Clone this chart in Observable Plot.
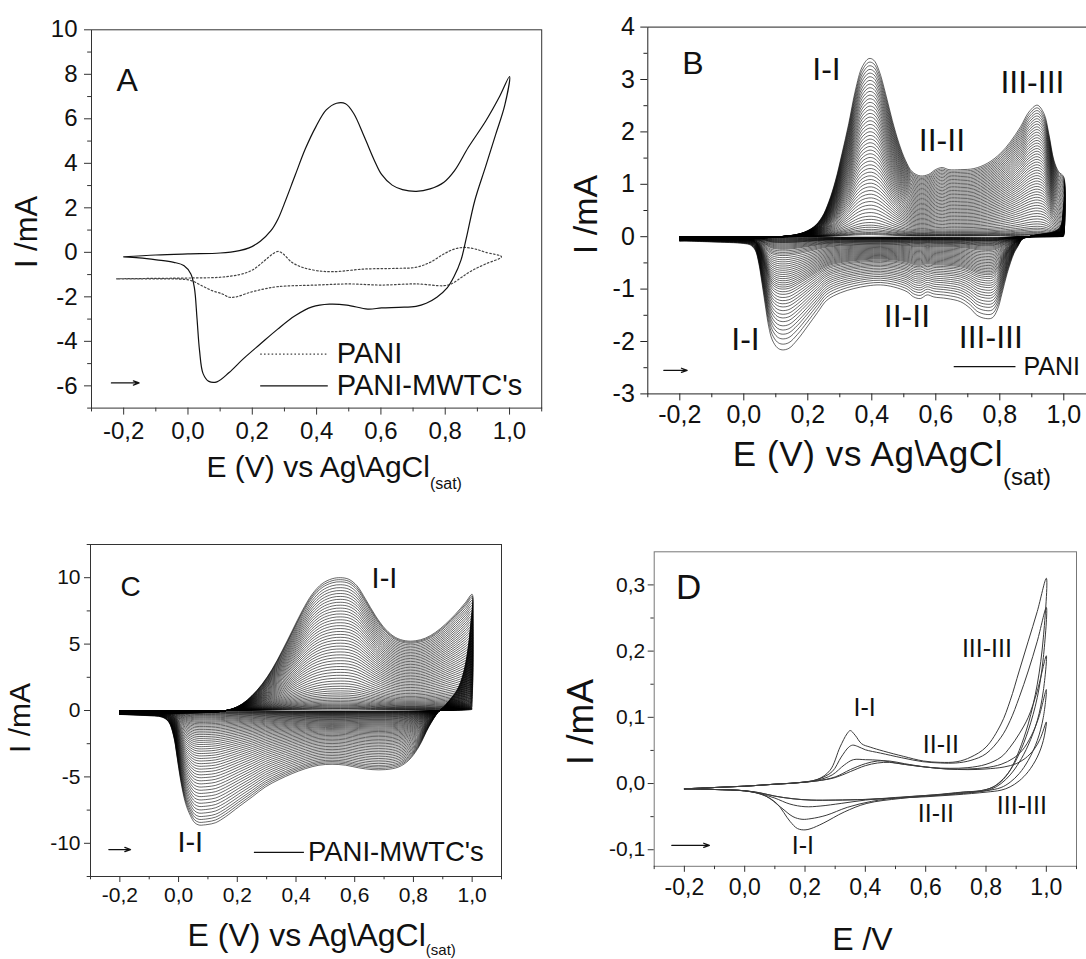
<!DOCTYPE html>
<html>
<head>
<meta charset="utf-8">
<script src="https://cdn.jsdelivr.net/npm/d3@7"></script>
<script src="https://cdn.jsdelivr.net/npm/@observablehq/plot@0.6"></script>
<style>
  html, body { margin: 0; padding: 0; background: #fff; overflow: hidden; width: 1086px; height: 959px; }
  #fig { position: relative; width: 1086px; height: 959px; }
  .panel { position: absolute; overflow: hidden; }
  .panel svg { max-width: none !important; display: block; }
</style>
</head>
<body>
<div id="fig"></div>
<script>
// ----- shared potential ticks (V) -----
const eMajor = [-0.2, 0.0, 0.2, 0.4, 0.6, 0.8, 1.0];
const eMinor = [-0.3, -0.1, 0.1, 0.3, 0.5, 0.7, 0.9, 1.1];

// ----- Panel A: one voltammogram of each film, [E (V), I (mA)] -----
const cvPaniMwtc = [
  [-0.2,-0.2],[-0.1,-0.12],[0.0,-0.07],[0.1,-0.03],[0.16,0.08],[0.19,0.2],[0.225,0.5],[0.258,0.97],
  [0.28,1.5],[0.3,2.2],[0.333,3.45],[0.365,4.65],[0.398,5.65],[0.43,6.4],[0.462,6.7],[0.49,6.68],
  [0.515,6.25],[0.549,5.17],[0.58,4.12],[0.602,3.5],[0.635,3.02],[0.667,2.82],[0.71,2.74],[0.753,2.85],
  [0.796,3.15],[0.829,3.67],[0.872,4.72],[0.926,5.9],[0.969,7.0],[1.0,7.9],
  [0.985,6.6],[0.957,5.3],[0.925,3.83],[0.892,2.33],[0.865,0.6],[0.849,-0.35],[0.827,-1.1],[0.806,-1.6],
  [0.774,-2.02],[0.741,-2.29],[0.709,-2.43],[0.655,-2.47],[0.602,-2.5],[0.559,-2.55],[0.494,-2.37],
  [0.44,-2.33],[0.386,-2.45],[0.333,-2.85],[0.279,-3.45],[0.225,-4.12],[0.171,-4.8],[0.128,-5.4],
  [0.09,-5.82],[0.065,-5.8],[0.047,-5.45],[0.036,-4.42],[0.028,-2.95],[0.02,-1.6],[0.009,-0.97],
  [-0.012,-0.6],[-0.044,-0.45],[-0.098,-0.34],[-0.152,-0.25],[-0.2,-0.2]
];
const cvPani = [
  [-0.222,-1.19],[-0.1,-1.17],[0.02,-1.15],[0.1,-1.12],[0.16,-1.0],[0.2,-0.8],[0.236,-0.4],[0.263,-0.08],
  [0.28,0.04],[0.296,-0.07],[0.323,-0.45],[0.355,-0.67],[0.4,-0.82],[0.45,-0.87],[0.55,-0.75],[0.65,-0.72],
  [0.71,-0.67],[0.753,-0.45],[0.796,-0.07],[0.829,0.15],[0.86,0.22],[0.893,0.15],[0.926,0.0],[0.975,-0.2],
  [0.926,-0.52],[0.883,-0.82],[0.851,-1.12],[0.819,-1.42],[0.796,-1.5],[0.71,-1.42],[0.6,-1.47],[0.5,-1.42],
  [0.4,-1.47],[0.28,-1.54],[0.236,-1.65],[0.193,-1.8],[0.15,-2.0],[0.128,-2.02],[0.107,-1.87],[0.075,-1.72],
  [0.043,-1.5],[0.01,-1.27],[-0.03,-1.2],[-0.1,-1.19],[-0.222,-1.19]
];
const iMajorA = [-6, -4, -2, 0, 2, 4, 6, 8, 10];
const iMinorA = [-7, -5, -3, -1, 1, 3, 5, 7, 9];

// ----- Panel B: PANI growth; last-cycle shape, then the I-I anodic and cathodic peak of every cycle (mA) -----
const cvPaniLastCycle = [
  [-0.2,-0.08],[-0.1,-0.05],[0.0,-0.04],[0.094,-0.01],[0.177,0.06],[0.219,0.19],[0.245,0.38],[0.266,0.67],
  [0.287,1.08],[0.307,1.59],[0.328,2.16],[0.349,2.8],[0.37,3.24],[0.391,3.4],[0.406,3.37],[0.422,3.18],
  [0.443,2.73],[0.464,2.22],[0.485,1.78],[0.505,1.46],[0.526,1.24],[0.552,1.16],[0.578,1.19],[0.599,1.28],
  [0.62,1.32],[0.641,1.28],[0.678,1.28],[0.719,1.3],[0.761,1.4],[0.802,1.59],[0.833,1.81],[0.865,2.1],
  [0.891,2.38],[0.917,2.51],[0.938,2.35],[0.953,1.97],[0.969,1.46],[0.984,1.24],[1.0,1.14],
  [0.998,0.5],[0.99,0.2],[0.97,0.1],[0.94,0.06],[0.91,0.03],[0.885,-0.01],[0.87,-0.05],[0.855,-0.2],
  [0.844,-0.32],[0.823,-0.7],[0.807,-1.08],[0.792,-1.4],[0.776,-1.55],[0.755,-1.56],[0.729,-1.5],
  [0.708,-1.37],[0.677,-1.24],[0.635,-1.18],[0.594,-1.15],[0.573,-1.11],[0.552,-1.18],[0.531,-1.15],
  [0.51,-1.05],[0.469,-0.96],[0.427,-0.92],[0.385,-0.94],[0.344,-0.99],[0.302,-1.07],[0.26,-1.21],
  [0.23,-1.45],[0.198,-1.72],[0.167,-1.97],[0.141,-2.13],[0.12,-2.16],[0.105,-2.12],[0.089,-1.97],
  [0.078,-1.72],[0.068,-1.34],[0.057,-0.89],[0.047,-0.51],[0.036,-0.26],[0.021,-0.16],[0.0,-0.13],
  [-0.1,-0.1],[-0.2,-0.08]
];
const peakPaniAnodic = [
  0.04,0.06,0.08,0.11,0.14,0.18,0.22,0.27,0.33,0.39,0.46,0.53,0.60,0.67,0.74,0.81,0.88,0.95,1.02,1.09,
  1.16,1.23,1.30,1.37,1.44,1.51,1.58,1.65,1.72,1.79,1.86,1.93,2.00,2.07,2.14,2.21,2.28,2.35,2.42,2.49,
  2.56,2.63,2.70,2.77,2.84,2.91,2.98,3.05,3.12,3.19,3.26,3.33,3.40
];
const peakPaniCathodic = [
  0.02,0.03,0.04,0.05,0.06,0.07,0.08,0.09,0.10,0.11,0.12,0.14,0.16,0.18,0.20,0.22,0.24,0.27,0.30,0.33,
  0.36,0.40,0.44,0.48,0.52,0.56,0.60,0.64,0.68,0.72,0.76,0.80,0.84,0.88,0.92,0.96,1.00,1.05,1.10,1.16,
  1.22,1.28,1.34,1.41,1.48,1.55,1.62,1.70,1.78,1.86,1.95,2.05,2.16
];
const iMajorB = [-3, -2, -1, 0, 1, 2, 3, 4];
const iMinorB = [-2.5, -1.5, -0.5, 0.5, 1.5, 2.5, 3.5];

// ----- Panel C: PANI-MWTC's growth; last-cycle shape, then I-I anodic and cathodic peaks per cycle (mA) -----
const cvCompositeLastCycle = [
  [-0.2,-0.3],[-0.1,-0.25],[0.0,-0.2],[0.1,-0.15],[0.137,-0.1],[0.183,0.12],[0.217,0.5],[0.25,1.12],
  [0.285,2.0],[0.319,3.12],[0.353,4.5],[0.387,6.0],[0.421,7.5],[0.455,8.75],[0.489,9.55],[0.523,9.92],
  [0.552,10.0],[0.58,9.88],[0.608,9.38],[0.637,8.38],[0.671,7.12],[0.705,6.12],[0.739,5.5],[0.773,5.25],
  [0.807,5.25],[0.841,5.45],[0.875,5.88],[0.909,6.5],[0.943,7.25],[0.977,8.12],[1.0,8.75],
  [0.995,6.5],[0.985,4.5],[0.97,2.8],[0.95,1.6],[0.92,0.7],[0.9,0.2],[0.885,-0.1],[0.852,-1.25],
  [0.818,-2.75],[0.784,-3.75],[0.75,-4.25],[0.705,-4.45],[0.659,-4.45],[0.614,-4.32],[0.569,-4.12],
  [0.523,-4.05],[0.478,-4.12],[0.432,-4.38],[0.387,-4.75],[0.342,-5.2],[0.296,-5.75],[0.251,-6.5],
  [0.205,-7.25],[0.16,-8.0],[0.126,-8.45],[0.1,-8.58],[0.085,-8.62],[0.07,-8.63],[0.055,-8.45],
  [0.04,-7.9],[0.024,-7.0],[0.007,-5.25],[-0.005,-3.5],[-0.016,-2.0],[-0.033,-0.88],[-0.056,-0.5],
  [-0.113,-0.38],[-0.2,-0.3]
];
const peakCompositeAnodic = [
  0.10,0.15,0.20,0.26,0.33,0.40,0.48,0.57,0.67,0.78,0.90,1.03,1.17,1.32,1.48,1.65,1.83,2.02,2.22,2.43,
  2.65,2.87,3.09,3.31,3.53,3.75,3.97,4.19,4.41,4.63,4.85,5.07,5.29,5.51,5.73,5.95,6.17,6.39,6.61,6.83,
  7.05,7.27,7.49,7.71,7.93,8.15,8.37,8.59,8.81,9.03,9.25,9.47,9.69,9.85,10.0
];
const peakCompositeCathodic = [
  0.08,0.12,0.16,0.20,0.25,0.30,0.36,0.42,0.49,0.56,0.64,0.72,0.81,0.90,1.00,1.10,1.21,1.32,1.44,1.56,
  1.69,1.82,1.96,2.10,2.25,2.40,2.56,2.72,2.89,3.06,3.24,3.42,3.61,3.80,4.00,4.20,4.41,4.62,4.84,5.06,
  5.29,5.52,5.76,6.00,6.24,6.48,6.73,6.98,7.23,7.48,7.73,7.98,8.20,8.42,8.63
];
const iMajorC = [-10, -5, 0, 5, 10];
const iMinorC = [-12.5, -7.5, -2.5, 2.5, 7.5, 12.5];

// ----- Panel D: five successive cycles, [E (V), I (mA)] -----
const cvD1 = [
  [-0.2,-0.008],[-0.1,-0.006],[0.0,-0.004],[0.1,-0.001],[0.17,0.001],[0.24,0.006],[0.283,0.02],[0.316,0.055],
  [0.339,0.075],[0.35,0.08],[0.366,0.073],[0.388,0.06],[0.416,0.055],[0.46,0.049],[0.527,0.041],[0.593,0.034],
  [0.648,0.032],[0.704,0.033],[0.75,0.04],[0.8,0.055],[0.85,0.09],[0.88,0.125],[0.91,0.17],[0.94,0.215],
  [0.97,0.26],[1.0,0.31],
  [0.99,0.22],[0.97,0.15],[0.94,0.09],[0.91,0.05],[0.88,0.02],[0.85,0.003],[0.82,-0.006],[0.78,-0.011],
  [0.737,-0.0125],[0.637,-0.0175],[0.516,-0.0226],[0.405,-0.03],[0.33,-0.043],[0.26,-0.06],[0.22,-0.068],
  [0.2,-0.07],[0.175,-0.068],[0.15,-0.057],[0.106,-0.03],[0.06,-0.017],[0.0,-0.011],[-0.1,-0.009],[-0.2,-0.008]
];
const cvD2 = [
  [-0.2,-0.008],[-0.1,-0.006],[0.0,-0.004],[0.1,-0.001],[0.17,0.001],[0.24,0.006],[0.29,0.018],[0.32,0.04],
  [0.345,0.055],[0.358,0.058],[0.375,0.056],[0.4,0.051],[0.45,0.046],[0.52,0.039],[0.59,0.033],[0.65,0.031],
  [0.7,0.031],[0.75,0.035],[0.8,0.045],[0.85,0.07],[0.88,0.095],[0.91,0.13],[0.94,0.17],[0.97,0.215],[1.0,0.266],
  [0.99,0.19],[0.97,0.13],[0.94,0.08],[0.91,0.045],[0.88,0.02],[0.85,0.004],[0.82,-0.006],[0.78,-0.011],
  [0.72,-0.013],[0.63,-0.017],[0.52,-0.021],[0.42,-0.027],[0.34,-0.036],[0.27,-0.048],[0.22,-0.053],
  [0.19,-0.054],[0.16,-0.05],[0.12,-0.036],[0.07,-0.019],[0.0,-0.011],[-0.1,-0.009],[-0.2,-0.008]
];
const cvD3 = [
  [-0.2,-0.008],[-0.1,-0.006],[0.0,-0.004],[0.1,-0.001],[0.17,0.001],[0.24,0.005],[0.29,0.013],[0.33,0.028],
  [0.36,0.036],[0.4,0.036],[0.45,0.035],[0.5,0.031],[0.56,0.027],[0.62,0.024],[0.68,0.023],[0.74,0.024],
  [0.8,0.029],[0.85,0.04],[0.88,0.055],[0.91,0.075],[0.94,0.1],[0.97,0.14],[1.0,0.193],
  [0.99,0.14],[0.97,0.095],[0.94,0.058],[0.91,0.032],[0.88,0.013],[0.85,0.0],[0.82,-0.008],[0.78,-0.012],
  [0.7,-0.015],[0.6,-0.018],[0.5,-0.021],[0.4,-0.025],[0.32,-0.03],[0.25,-0.034],[0.2,-0.035],[0.15,-0.031],
  [0.1,-0.022],[0.05,-0.015],[0.0,-0.011],[-0.1,-0.009],[-0.2,-0.008]
];
const cvD4 = [
  [-0.2,-0.008],[-0.1,-0.006],[0.0,-0.004],[0.1,-0.001],[0.17,0.001],[0.24,0.004],[0.3,0.01],[0.35,0.021],
  [0.4,0.03],[0.44,0.034],[0.48,0.034],[0.53,0.03],[0.6,0.025],[0.67,0.022],[0.74,0.022],[0.8,0.024],
  [0.85,0.029],[0.89,0.038],[0.92,0.05],[0.95,0.072],[0.975,0.1],[1.0,0.142],
  [0.99,0.1],[0.97,0.065],[0.94,0.035],[0.91,0.015],[0.88,0.002],[0.85,-0.006],[0.8,-0.011],[0.7,-0.016],
  [0.6,-0.019],[0.5,-0.022],[0.4,-0.024],[0.3,-0.025],[0.22,-0.025],[0.16,-0.023],[0.1,-0.019],[0.05,-0.014],
  [0.0,-0.011],[-0.1,-0.009],[-0.2,-0.008]
];
const cvD5 = [
  [-0.2,-0.008],[-0.1,-0.006],[0.0,-0.004],[0.1,-0.001],[0.17,0.001],[0.24,0.004],[0.3,0.009],[0.35,0.018],
  [0.4,0.027],[0.44,0.031],[0.48,0.032],[0.53,0.029],[0.6,0.025],[0.67,0.022],[0.74,0.021],[0.8,0.022],
  [0.86,0.025],[0.9,0.03],[0.93,0.038],[0.96,0.052],[0.98,0.068],[1.0,0.093],
  [0.99,0.065],[0.97,0.04],[0.94,0.018],[0.91,0.004],[0.88,-0.005],[0.85,-0.01],[0.8,-0.013],[0.7,-0.017],
  [0.6,-0.02],[0.5,-0.022],[0.4,-0.024],[0.3,-0.025],[0.22,-0.025],[0.16,-0.023],[0.1,-0.019],[0.05,-0.014],
  [0.0,-0.011],[-0.1,-0.009],[-0.2,-0.008]
];
const iMajorD = [-0.1, 0.0, 0.1, 0.2, 0.3];
const iMinorD = [-0.05, 0.05, 0.15, 0.25];

// ----- peak labels, legend entries and scan-direction arrows (data coordinates) -----
const labelsB = [
  {t: "I-I", E: 0.214, I: 3.18}, {t: "II-II", E: 0.547, I: 1.83}, {t: "III-III", E: 0.802, I: 2.93},
  {t: "I-I", E: -0.039, I: -1.97}, {t: "II-II", E: 0.4375, I: -1.53}, {t: "III-III", E: 0.672, I: -1.92}
];
const labelsC = [{t: "I-I", E: 0.6576, I: 9.92}, {t: "I-I", E: -0.004, I: -9.98}];
const labelsD = [
  {t: "I-I", E: 0.3605, I: 0.1146}, {t: "II-II", E: 0.5907, I: 0.0579}, {t: "III-III", E: 0.72, I: 0.2027},
  {t: "I-I", E: 0.156, I: -0.0946}, {t: "II-II", E: 0.574, I: -0.0467}, {t: "III-III", E: 0.836, I: -0.0342}
];
const legendA = [
  {t: "PANI", E1: 0.2246, E2: 0.4348, I: -4.57, dotted: true},
  {t: "PANI-MWTC's", E1: 0.2246, E2: 0.4348, I: -6.0, dotted: false}
];
const legendB = [{t: "PANI", E1: 0.656, E2: 0.849, I: -2.48}];
const legendC = [{t: "PANI-MWTC's", E1: 0.2566, E2: 0.427, I: -10.68}];
const scanArrowA = [{E1: -0.238, E2: -0.152, I: -5.87}];
const scanArrowB = [{E1: -0.25, E2: -0.177, I: -2.55}];
const scanArrowC = [{E1: -0.2375, E2: -0.1636, I: -10.47}];
const scanArrowD = [{E1: -0.2418, E2: -0.117, I: -0.0933}];

// ================= drawing =================
const FONT = "'Liberation Sans', Arial, Helvetica, sans-serif";
const INK = "#111";
const TITLE_X = "E (V) vs Ag\\AgCl";
const commaFmt = d => (d < -1e-9 ? "-" : "") + Math.abs(d).toFixed(1).replace(".", ",");
const intFmt = d => (d < 0 ? "-" : "") + Math.abs(d);

const rows = (pairs, extra = {}) => pairs.map(([E, I]) => ({E, I, ...extra}));

// Each cycle follows the last-cycle shape: the forward (anodic) scan is sized by that
// cycle's I-I anodic peak, the return (cathodic) scan by its I-I cathodic peak.
function growthRows(shape, anodic, cathodic) {
  const turn = d3.maxIndex(shape, d => d[0]);
  const aTop = d3.max(shape, d => d[1]);
  const cTop = -d3.min(shape, d => d[1]);
  return anodic.flatMap((a, k) => shape.map(([E, I], i) =>
    ({E, I: i <= turn ? I * a / aTop : I * cathodic[k] / cTop, cycle: k})));
}

function axes(s) {
  return [
    Plot.frame({stroke: s.frame, strokeWidth: 1}),
    Plot.axisX({ticks: eMajor, tickSize: s.xTick, tickPadding: s.xPad, tickFormat: commaFmt,
      fontSize: s.xFont, label: null, color: INK, stroke: s.axis}),
    Plot.axisX({ticks: eMinor, tickSize: s.xTick * 0.55, label: null, stroke: s.axis, fill: "none"}),
    Plot.axisY({ticks: s.yMajor, tickSize: s.yTick, tickPadding: s.yPad, tickFormat: s.yFmt,
      fontSize: s.yFont, label: null, color: INK, stroke: s.axis}),
    Plot.axisY({ticks: s.yMinor, tickSize: s.yTick * 0.55, label: null, stroke: s.axis, fill: "none"}),
    Plot.text([s.yTitle], {text: d => d, frameAnchor: "left", rotate: -90, textAnchor: "middle",
      lineAnchor: "middle", dx: s.yTitleDx, dy: s.yTitleDy, fontSize: s.yTitleFont, fill: INK}),
    Plot.text([s.xTitle], {text: d => d, frameAnchor: "bottom-left", textAnchor: "start", lineAnchor: "middle",
      dx: s.xTitleDx, dy: s.xTitleDy, fontSize: s.xTitleFont, fill: INK}),
    Plot.text([s.letter], {text: d => d, x: () => s.letterAt[0], y: () => s.letterAt[1],
      textAnchor: "start", lineAnchor: "middle", fontSize: s.letterFont, fill: INK})
  ];
}

function arrowMark(data) {
  return Plot.arrow(data, {x1: "E1", x2: "E2", y1: "I", y2: "I", stroke: INK, strokeWidth: 1.3,
    headLength: 7, headAngle: 40});
}

function mount(svg, box, sub) {
  const div = document.createElement("div");
  div.className = "panel";
  Object.assign(div.style, {left: box.left + "px", top: box.top + "px",
    width: box.width + "px", height: box.height + "px"});
  if (sub) {
    d3.select(svg).selectAll("text")
      .filter(function () { return this.textContent === TITLE_X; })
      .attr("letter-spacing", sub.spacing)
      .append("tspan").attr("dy", sub.dy).attr("font-size", sub.size).attr("letter-spacing", 0)
      .text("(sat)");
  }
  div.appendChild(svg);
  document.getElementById("fig").appendChild(div);
}

// ---------- A ----------
{
  const box = {left: 0, top: 0, width: 543, height: 500};
  const s = {frame: "#333", axis: "#333", xTick: 7, xPad: 7, xFont: 24, yTick: 7, yPad: 7, yFont: 24,
    yMajor: iMajorA, yMinor: iMinorA, yFmt: intFmt,
    yTitle: "I /mA", yTitleDx: -64, yTitleDy: 13, yTitleFont: 31,
    xTitle: TITLE_X, xTitleDx: 115, xTitleDy: 59, xTitleFont: 30,
    letter: "A", letterAt: [-0.222, 7.72], letterFont: 32};
  const svg = Plot.plot({
    width: box.width, height: box.height,
    marginLeft: 91, marginRight: 1.8, marginTop: 29.3, marginBottom: 92.4,
    x: {domain: [-0.3, 1.1]}, y: {domain: [-7, 10]},
    style: {fontFamily: FONT, background: "none", color: INK},
    marks: [
      ...axes(s),
      Plot.line(rows(cvPani), {x: "E", y: "I", stroke: "#444", strokeWidth: 1.2,
        strokeDasharray: "1.6,2.2", curve: "catmull-rom"}),
      Plot.line(rows(cvPaniMwtc), {x: "E", y: "I", stroke: INK, strokeWidth: 1.2, curve: "catmull-rom"}),
      Plot.link(legendA.filter(d => d.dotted), {x1: "E1", x2: "E2", y1: "I", y2: "I", stroke: "#444",
        strokeWidth: 1.2, strokeDasharray: "1.6,2.2"}),
      Plot.link(legendA.filter(d => !d.dotted), {x1: "E1", x2: "E2", y1: "I", y2: "I", stroke: INK,
        strokeWidth: 1.2}),
      Plot.text(legendA, {x: "E2", y: "I", text: "t", textAnchor: "start", dx: 9, fontSize: 29, fill: INK}),
      arrowMark(scanArrowA)
    ]
  });
  mount(svg, box, {spacing: 0, dy: 12, size: 16});
}

// ---------- B ----------
{
  const box = {left: 543, top: 0, width: 553, height: 500};
  const s = {frame: "#222", axis: "#222", xTick: 7, xPad: 4, xFont: 25, yTick: 7, yPad: 6, yFont: 25,
    yMajor: iMajorB, yMinor: iMinorB, yFmt: intFmt,
    yTitle: "I /mA", yTitleDx: -62, yTitleDy: 4, yTitleFont: 34,
    xTitle: TITLE_X, xTitleDx: 85, xTitleDy: 61, xTitleFont: 35,
    letter: "B", letterAt: [-0.1925, 3.31], letterFont: 32};
  const svg = Plot.plot({
    width: box.width, height: box.height,
    marginLeft: 104.3, marginRight: 0.7, marginTop: 26.6, marginBottom: 106.6,
    x: {domain: [-0.3, 1.1]}, y: {domain: [-3, 4]},
    style: {fontFamily: FONT, background: "none", color: INK},
    marks: [
      ...axes(s),
      Plot.line(growthRows(cvPaniLastCycle, peakPaniAnodic, peakPaniCathodic), {x: "E", y: "I", z: "cycle",
        stroke: "#000", strokeWidth: 0.6, curve: "catmull-rom"}),
      Plot.text(labelsB, {x: "E", y: "I", text: "t", textAnchor: "start", fontSize: 32, fill: INK}),
      Plot.link(legendB, {x1: "E1", x2: "E2", y1: "I", y2: "I", stroke: INK, strokeWidth: 1.2}),
      Plot.text(legendB, {x: "E2", y: "I", text: "t", textAnchor: "start", dx: 8, fontSize: 25, fill: INK}),
      arrowMark(scanArrowB)
    ]
  });
  mount(svg, box, {spacing: 0.6, dy: 19, size: 24});
}

// ---------- C ----------
{
  const box = {left: 0, top: 500, width: 543, height: 459};
  const s = {frame: "#333", axis: "#333", xTick: 6, xPad: 5, xFont: 21, yTick: 6, yPad: 4, yFont: 21,
    yMajor: iMajorC, yMinor: iMinorC, yFmt: intFmt,
    yTitle: "I /mA", yTitleDx: -70, yTitleDy: 7.5, yTitleFont: 30,
    xTitle: TITLE_X, xTitleDx: 97, xTitleDy: 59, xTitleFont: 32,
    letter: "C", letterAt: [-0.198, 9.27], letterFont: 28};
  const svg = Plot.plot({
    width: box.width, height: box.height,
    marginLeft: 90, marginRight: 42, marginTop: 44, marginBottom: 83,
    x: {domain: [-0.3, 1.1]}, y: {domain: [-12.5, 12.5]},
    style: {fontFamily: FONT, background: "none", color: INK},
    marks: [
      ...axes(s),
      Plot.line(growthRows(cvCompositeLastCycle, peakCompositeAnodic, peakCompositeCathodic),
        {x: "E", y: "I", z: "cycle", stroke: "#000", strokeWidth: 0.6, curve: "catmull-rom"}),
      Plot.text(labelsC, {x: "E", y: "I", text: "t", textAnchor: "start", fontSize: 29, fill: INK}),
      Plot.link(legendC, {x1: "E1", x2: "E2", y1: "I", y2: "I", stroke: INK, strokeWidth: 1.2}),
      Plot.text(legendC, {x: "E2", y: "I", text: "t", textAnchor: "start", dx: 4, fontSize: 27.5, fill: INK}),
      arrowMark(scanArrowC)
    ]
  });
  mount(svg, box, {spacing: 0, dy: 9, size: 15});
}

// ---------- D ----------
{
  const box = {left: 543, top: 500, width: 543, height: 459};
  const s = {frame: "#777", axis: "#333", xTick: 6, xPad: 6, xFont: 23, yTick: 6, yPad: 3, yFont: 21,
    yMajor: iMajorD, yMinor: iMinorD, yFmt: commaFmt,
    yTitle: "I /mA", yTitleDx: -73, yTitleDy: 13, yTitleFont: 37,
    xTitle: "E /V", xTitleDx: 178, xTitleDy: 73, xTitleFont: 32,
    letter: "D", letterAt: [-0.2275, 0.296], letterFont: 35};
  const cycles = [cvD1, cvD2, cvD3, cvD4, cvD5].flatMap((c, k) => rows(c, {cycle: k}));
  const svg = Plot.plot({
    width: box.width, height: box.height,
    marginLeft: 110.7, marginRight: 10, marginTop: 51.3, marginBottom: 93.2,
    x: {domain: [-0.3, 1.1]}, y: {domain: [-0.125, 0.35]},
    style: {fontFamily: FONT, background: "none", color: INK},
    marks: [
      ...axes(s),
      Plot.line(cycles, {x: "E", y: "I", z: "cycle", stroke: "#3a3a3a", strokeWidth: 1, curve: "catmull-rom"}),
      Plot.text(labelsD, {x: "E", y: "I", text: "t", textAnchor: "start", fontSize: 25, fill: INK}),
      arrowMark(scanArrowD)
    ]
  });
  mount(svg, box, null);
}
</script>
</body>
</html>
